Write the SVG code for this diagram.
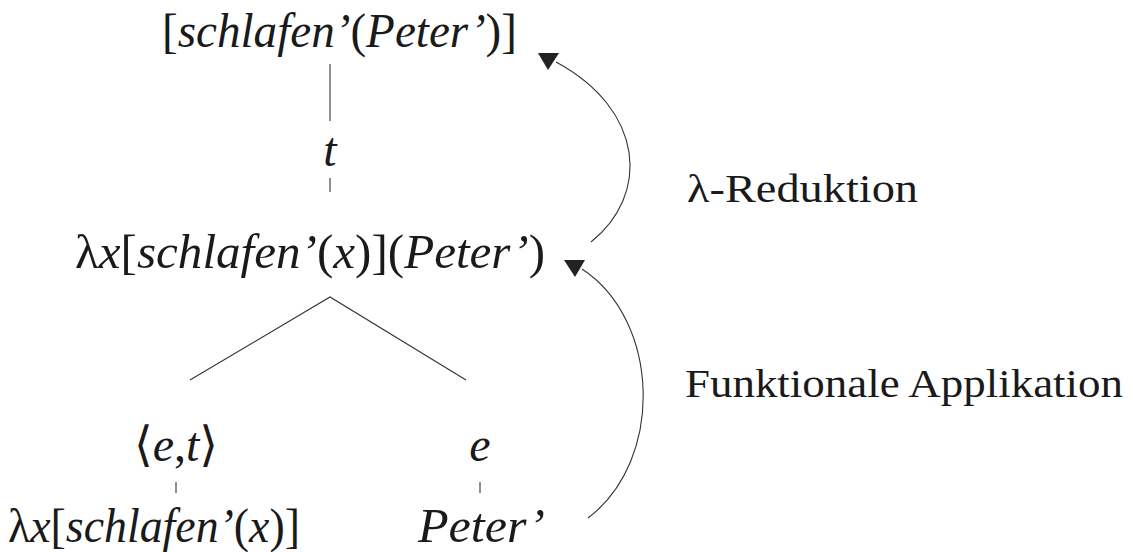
<svg xmlns="http://www.w3.org/2000/svg" width="1133" height="552" viewBox="0 0 1133 552">
<style>
.m{font-family:"Liberation Serif","DejaVu Serif",serif;font-size:48px;fill:#1a1a1a}
.i{font-style:italic}
.lab{font-family:"Liberation Serif","DejaVu Serif",serif;font-size:40px;fill:#1a1a1a}
.ln{stroke:#333;stroke-width:1.1;fill:none}
.ah{fill:#222}
</style>
<rect width="1133" height="552" fill="#fff"/>
<g id="connectors">
<line class="ln" x1="330" y1="64" x2="330" y2="121"/>
<line class="ln" x1="330" y1="178" x2="330" y2="192"/>
<polyline class="ln" points="190,380 330,297 466,380"/>
<line class="ln" x1="176" y1="482" x2="176" y2="493"/>
<line class="ln" x1="480" y1="482" x2="480" y2="493"/>
<path class="ln" d="M591,242 C650,195 645,110 556,62"/>
<polygon class="ah" points="538,53 559,53 548,70"/>
<path class="ln" d="M588,518 C665,460 660,320 582,269"/>
<polygon class="ah" points="564,260 585,260 575,277"/>
</g>
<g id="n-top"><text class="m" x="162" y="47" textLength="355" lengthAdjust="spacingAndGlyphs">[<tspan class="i">schlafen’</tspan>(<tspan class="i">Peter’</tspan>)]</text></g>
<g id="n-t"><text class="m i" x="330" y="166" text-anchor="middle">t</text></g>
<g id="n-mid"><text class="m" x="75" y="268" textLength="470" lengthAdjust="spacingAndGlyphs">λ<tspan class="i">x</tspan>[<tspan class="i">schlafen’</tspan>(<tspan class="i">x</tspan>)](<tspan class="i">Peter’</tspan>)</text></g>
<g id="n-et"><text class="m" x="176" y="461" text-anchor="middle">⟨<tspan class="i">e</tspan>,<tspan class="i">t</tspan>⟩</text></g>
<g id="n-e"><text class="m i" x="480" y="461" text-anchor="middle">e</text></g>
<g id="n-fun"><text class="m" x="8" y="542" textLength="292" lengthAdjust="spacingAndGlyphs">λ<tspan class="i">x</tspan>[<tspan class="i">schlafen’</tspan>(<tspan class="i">x</tspan>)]</text></g>
<g id="n-peter"><text class="m i" x="418" y="542" textLength="127" lengthAdjust="spacingAndGlyphs">Peter’</text></g>
<g id="l-red"><text class="lab" x="687" y="202" textLength="231" lengthAdjust="spacingAndGlyphs">λ-Reduktion</text></g>
<g id="l-fa"><text class="lab" x="685" y="397" textLength="438" lengthAdjust="spacingAndGlyphs">Funktionale Applikation</text></g>
</svg>
